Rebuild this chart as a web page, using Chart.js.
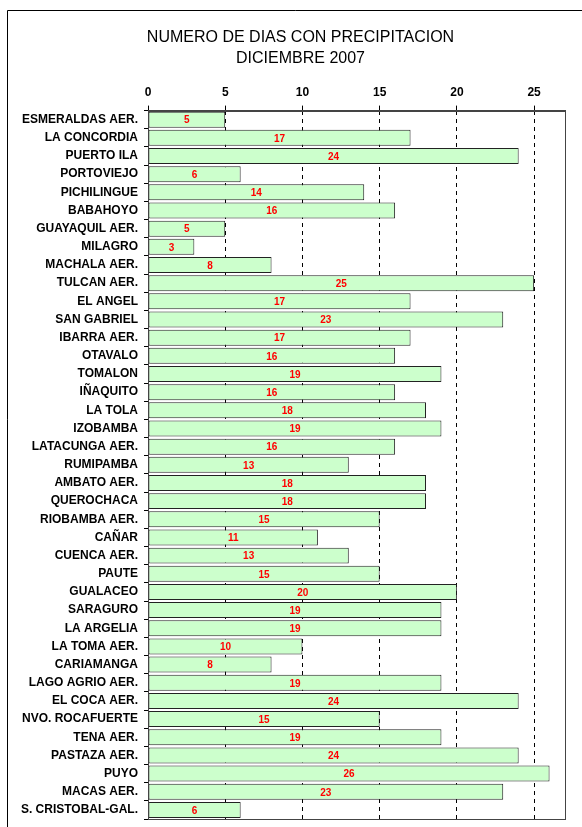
<!DOCTYPE html>
<html>
<head>
<meta charset="utf-8">
<script src="https://cdn.jsdelivr.net/npm/chart.js@4/dist/chart.umd.min.js"></script>
<style>
  body { margin: 0; background: #fff; }
  #wrap { width: 582px; height: 827px; position: relative; }
</style>
</head>
<body>
<div id="wrap"><canvas id="chart-bar" width="582" height="827"></canvas></div>
<script>
var estaciones = ["ESMERALDAS AER.", "LA CONCORDIA", "PUERTO ILA", "PORTOVIEJO", "PICHILINGUE",
    "BABAHOYO", "GUAYAQUIL AER.", "MILAGRO", "MACHALA AER.", "TULCAN AER.", "EL ANGEL",
    "SAN GABRIEL", "IBARRA AER.", "OTAVALO", "TOMALON", "IÑAQUITO", "LA TOLA", "IZOBAMBA",
    "LATACUNGA AER.", "RUMIPAMBA", "AMBATO AER.", "QUEROCHACA", "RIOBAMBA AER.", "CAÑAR",
    "CUENCA AER.", "PAUTE", "GUALACEO", "SARAGURO", "LA ARGELIA", "LA TOMA AER.", "CARIAMANGA",
    "LAGO AGRIO AER.", "EL COCA AER.", "NVO. ROCAFUERTE", "TENA AER.", "PASTAZA AER.", "PUYO",
    "MACAS AER.", "S. CRISTOBAL-GAL."];
var dias = [5, 17, 24, 6, 14, 16, 5, 3, 8, 25, 17, 23, 17, 16, 19, 16, 18, 19, 16, 13, 18, 18,
    15, 11, 13, 15, 20, 19, 19, 10, 8, 19, 24, 15, 19, 24, 26, 23, 6];
var ejeMin = 0;
var ejeMax = 27;
var ejePaso = 5;

// marco exterior, borde del area y numeros dentro de las barras
var extras = {
    id: 'extras',
    afterLayout: function(chart) {
        // el titulo va centrado un poco mas a la derecha
        if (chart.titleBlock) {
            chart.titleBlock.left += 28;
        }
    },
    beforeDraw: function(chart) {
        var ctx = chart.ctx;
        ctx.save();
        ctx.fillStyle = '#fff';
        ctx.fillRect(0, 0, chart.width, chart.height);
        ctx.strokeStyle = '#000';
        ctx.lineWidth = 1;
        ctx.beginPath();
        ctx.moveTo(7.5, chart.height + 2);
        ctx.lineTo(7.5, 10.5);
        ctx.lineTo(chart.width + 2, 10.5);
        ctx.stroke();
        ctx.restore();
    },
    afterDatasetsDraw: function(chart) {
        var ctx = chart.ctx;
        var a = chart.chartArea;
        ctx.save();
        ctx.strokeStyle = '#444';
        ctx.lineWidth = 1;
        ctx.strokeRect(Math.round(a.left) + 0.5, Math.round(a.top) + 0.5,
            Math.round(a.right - a.left), Math.round(a.bottom - a.top));
        var meta = chart.getDatasetMeta(0);
        ctx.fillStyle = '#ff0000';
        ctx.font = 'bold 10px "Liberation Sans", Arial, sans-serif';
        ctx.textAlign = 'center';
        ctx.textBaseline = 'middle';
        meta.data.forEach(function(bar, i) {
            ctx.fillText(String(dias[i]), (bar.x + bar.base) / 2, bar.y + 1);
        });
        ctx.restore();
    }
};

var ctx = document.getElementById('chart-bar');
var lluvia = new Chart(ctx, {
    type: 'bar',
    data: {
        labels: estaciones,
        datasets: [{
            data: dias,
            backgroundColor: '#ccffcc',
            borderColor: '#222222',
            borderWidth: 1,
            borderSkipped: false,
            barPercentage: 0.88,
            categoryPercentage: 1
        }]
    },
    options: {
        indexAxis: 'y',
        responsive: false,
        animation: false,
        devicePixelRatio: 1,
        layout: { padding: { left: 8, right: 17, top: 0, bottom: 8 } },
        plugins: {
            legend: { display: false },
            tooltip: { enabled: false },
            title: {
                display: true,
                text: ['NUMERO DE DIAS CON PRECIPITACION', 'DICIEMBRE 2007'],
                color: '#000',
                font: { family: '"Liberation Sans", Arial, sans-serif', size: 16, weight: 'normal', lineHeight: 1.3 },
                padding: { top: 27, bottom: 10 }
            }
        },
        scales: {
            x: {
                position: 'top',
                min: ejeMin,
                max: ejeMax,
                afterFit: function(s) { s.height = 32; },
                ticks: {
                    stepSize: ejePaso,
                    includeBounds: false,
                    color: '#000',
                    padding: 6,
                    font: { family: '"Liberation Sans", Arial, sans-serif', size: 12, weight: 'bold' }
                },
                grid: {
                    color: function(c) { return c.tick && c.tick.value === 0 ? 'rgba(0,0,0,0)' : '#000'; },
                    tickColor: '#000',
                    tickLength: 5,
                    tickBorderDash: []
                },
                border: { display: true, color: '#444', dash: [4, 4] }
            },
            y: {
                afterFit: function(s) {
                    s.width = 140;
                    s.paddingTop = 0;
                    s.paddingBottom = 0;
                },
                ticks: {
                    autoSkip: false,
                    color: '#000',
                    padding: 6,
                    font: { family: '"Liberation Sans", Arial, sans-serif', size: 12, weight: 'bold' }
                },
                grid: {
                    drawOnChartArea: false,
                    color: '#000',
                    tickLength: 4
                },
                border: { display: true, color: '#444' }
            }
        }
    },
    plugins: [extras]
});
</script>
</body>
</html>
